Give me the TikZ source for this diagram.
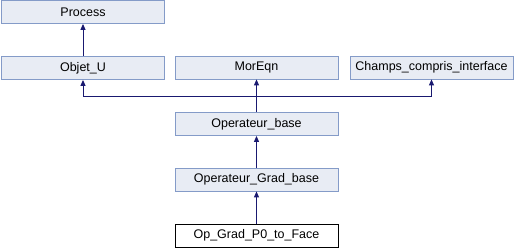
\documentclass[tikz,border=0pt]{standalone}
\usepackage{fontspec}
\setmainfont{Liberation Sans}
\usetikzlibrary{arrows.meta}
\definecolor{boxfill}{RGB}{232,236,244}
\definecolor{boxline}{RGB}{132,155,200}
\definecolor{edge}{RGB}{25,25,112}
\begin{document}
\begin{tikzpicture}[x=1pt,y=-1pt,
  cls/.style={draw=boxline,fill=boxfill,line width=0.8pt,minimum width=163pt,minimum height=23pt,inner sep=0pt,font=\fontsize{12.5}{14}\selectfont},
  focus/.style={cls,draw=black,fill=white},
  inh/.style={edge,line width=1pt,{Triangle[length=6pt,width=5pt]}-}]
\useasboundingbox (0,0) rectangle (515,248);
\node[cls] (process) at (83,12) {Process};
\node[cls] (objet) at (83,68) {Objet\_U};
\node[cls] (moreqn) at (256.5,67.5) {MorEqn};
\node[cls] (champs) at (431.5,67.5) {Champs\_compris\_interface};
\node[cls] (opbase) at (256.5,124) {Operateur\_base};
\node[cls] (opgrad) at (256.5,179.5) {Operateur\_Grad\_base};
\node[focus] (op) at (256.5,235.5) {Op\_Grad\_P0\_to\_Face};
\coordinate (join) at (256.5,96.7);
\draw[inh] (process.south) -- (objet.north);
\draw[inh] (moreqn.south) -- (opbase.north);
\draw[inh] (objet.south) |- (join);
\draw[inh] (champs.south) |- (join);
\draw[inh] (opbase.south) -- (opgrad.north);
\draw[inh] (opgrad.south) -- (op.north);
\end{tikzpicture}
\end{document}
